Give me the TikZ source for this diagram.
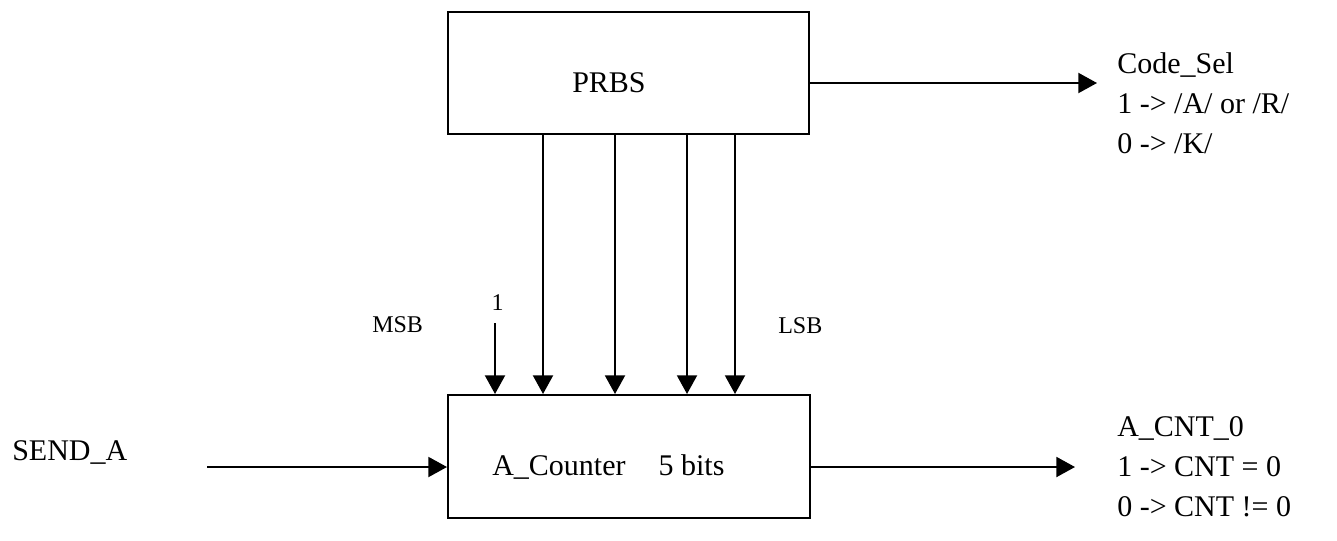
\documentclass[tikz,border=0pt]{standalone}
\usepackage{fontspec}
\setmainfont{Liberation Serif}
\usetikzlibrary{arrows.meta,calc}
\begin{document}
\begin{tikzpicture}[x=0.75pt,y=-0.75pt,
  blk/.style={draw, line width=1.5pt, inner sep=0pt, anchor=north west},
  arr/.style={line width=1.5pt, -{Triangle[length=14pt,width=15pt]}},
  txt/.style={font=\fontsize{22.5pt}{30pt}\selectfont, inner sep=0pt},
  sml/.style={font=\fontsize{18pt}{22pt}\selectfont, inner sep=0pt}]
\useasboundingbox (0,0) rectangle (1337,540);
% blocks
\node[blk, minimum width=270.75pt, minimum height=91.5pt] (prbs) at (447,11) {};
\node[blk, minimum width=271.5pt, minimum height=92.25pt] (cnt) at (447,394) {};
\node[txt, anchor=base west] (prbstxt) at (572,92) {PRBS};
\node[txt, anchor=base west] (cnttxt) at (492,475) {A\_Counter\hspace{24.75pt}5 bits};
% outputs and input
\coordinate (cstip) at (1097,83);
\coordinate (catip) at (1075,467);
\coordinate (sastart) at (207,467);
\draw[arr] (prbs.east |- cstip) -- (cstip);
\draw[arr] (cnt.east |- catip) -- (catip);
\draw[arr] (sastart) -- (cnt.west |- sastart);
\node[txt, anchor=north west, align=left] (codesel) at (1117,52.5)
  {Code\_Sel\\1 -> /A/ or /R/\\0 -> /K/};
\node[txt, anchor=north west, align=left] (acnt) at (1117,416.7)
  {A\_CNT\_0\\1 -> CNT = 0\\0 -> CNT != 0};
\node[txt, anchor=base west] (senda) at (12,460) {SEND\_A};
% bit arrows
\foreach \x/\n in {543/b3,615/b2,687/b1,735/b0}{
  \coordinate (\n) at (\x,200);
  \draw[arr] (prbs.south -| \n) -- (cnt.north -| \n);
}
\coordinate (msbstart) at (495,323);
\draw[arr] (msbstart) -- (cnt.north -| msbstart);
\node[sml, anchor=base] (one) at (497.5,310) {1};
\node[sml, anchor=base west] (msb) at (372,332) {MSB};
\node[sml, anchor=base west] (lsb) at (778,333) {LSB};
\end{tikzpicture}
\end{document}
